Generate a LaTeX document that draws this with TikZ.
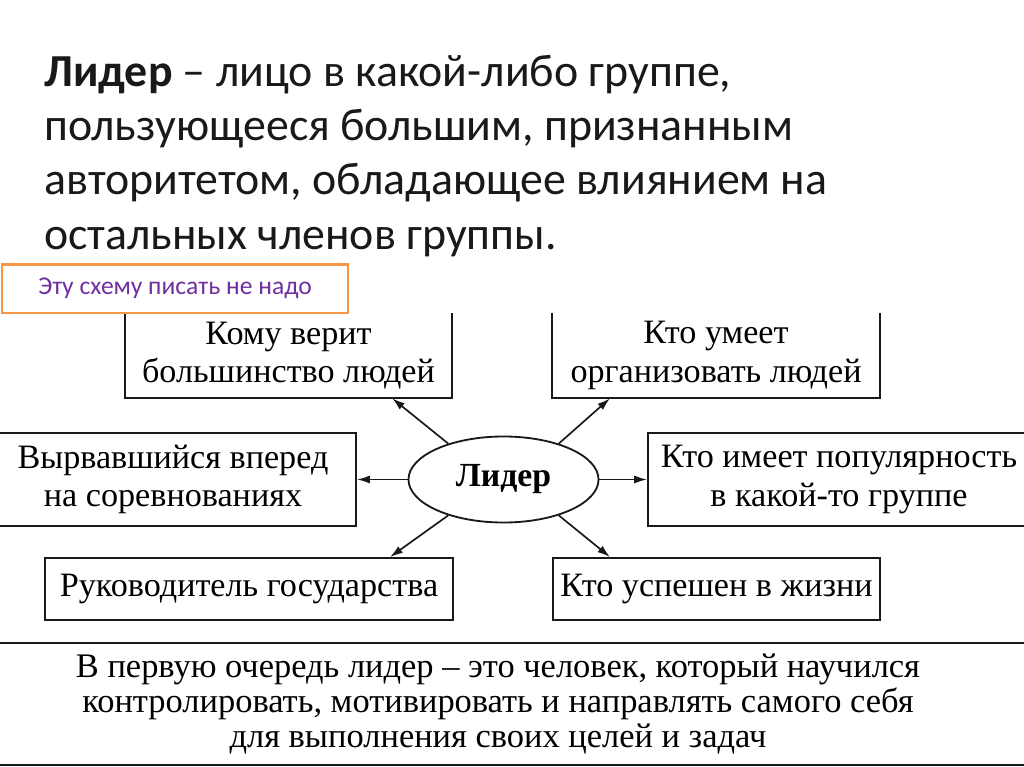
\documentclass[tikz,border=0pt]{standalone}
\usepackage{fontspec}
\setmainfont{Liberation Serif}
\newfontfamily\slidefont{Carlito}
\usepackage{tikz}
\usetikzlibrary{shapes.geometric, arrows.meta, positioning, calc}
\definecolor{mydark}{RGB}{25,25,25}
\definecolor{myorange}{RGB}{247,150,70}
\definecolor{mypurple}{RGB}{112,48,160}
\tikzset{
  titleline/.style={anchor=base west, inner sep=0pt, font=\slidefont\fontsize{32.6}{38}\selectfont, color=mydark},
  openbox/.style={rectangle, draw=none, align=center, inner sep=0pt,
    font=\fontsize{24.3}{27.5}\selectfont},
  plainbox/.style={rectangle, draw=mydark, align=center, inner sep=0pt,
    font=\fontsize{24.3}{27.5}\selectfont, line width=1.3pt},
  leader/.style={ellipse, draw=mydark, inner sep=0pt, minimum width=4.75cm,
    minimum height=2.15cm, font=\bfseries\fontsize{24}{27}\selectfont, line width=1.3pt},
  notebox/.style={rectangle, draw=myorange, fill=white, line width=2pt,
    minimum width=8.65cm, minimum height=1.22cm, font=\slidefont\fontsize{18.2}{21}\selectfont,
    text=mypurple},
  arrow/.style={-{Latex[length=0.32cm, width=0.2cm]}, line width=1.2pt, color=mydark},
  line/.style={line width=1.3pt, color=mydark}
}
\begin{document}
\begin{tikzpicture}[x=0.025cm, y=-0.025cm]
  \useasboundingbox (0,0) rectangle (1024,767);
  \clip (0,0) rectangle (1024,767);

  % Definition text
  \node[titleline] (t1) at (44,87) {\textbf{Лидер} – лицо в какой-либо группе,};
  \node[titleline] (t2) at (44,141) {пользующееся большим, признанным};
  \node[titleline] (t3) at (44,195) {авторитетом, обладающее влиянием на};
  \node[titleline] (t4) at (44,249) {остальных членов группы.};

  % Boxes around the leader
  \node[openbox, minimum width=8.175cm, minimum height=2.125cm] (kom) at (288.5,355.5) {Кому верит\\большинство людей};
  \node[openbox, minimum width=8.175cm, minimum height=2.125cm] (org) at (716,355.5) {Кто умеет\\организовать людей};
  \node[plainbox, minimum width=9.15cm, minimum height=2.325cm] (vyr) at (173,479.5) {Вырвавшийся вперед\\на соревнованиях};
  \node[plainbox, minimum width=9.55cm, minimum height=2.325cm] (pop) at (839,479.5) {Кто имеет популярность\\в какой-то группе};
  \node[plainbox, minimum width=10.2cm, minimum height=1.55cm] (ruk) at (249,589) {Руководитель государства};
  \node[plainbox, minimum width=8.175cm, minimum height=1.55cm] (usp) at (716.5,589) {Кто успешен в жизни};
  \draw[line] (kom.north west) |- (kom.south east) -- (kom.north east);
  \draw[line] (org.north west) |- (org.south east) -- (org.north east);

  % Centre
  \node[leader] (lider) at (503.5,479.5) {Лидер};

  % Arrows
  \draw[arrow] (lider.147) -- ([xshift=2.59cm]kom.south);
  \draw[arrow] (lider.33) -- ([xshift=-2.65cm]org.south);
  \draw[arrow] (lider.west) -- (lider.west -| vyr.east);
  \draw[arrow] (lider.east) -- (lider.east -| pop.west);
  \draw[arrow] (lider.213) -- ([xshift=3.525cm]ruk.north);
  \draw[arrow] (lider.327) -- ([xshift=-2.66cm]usp.north);

  % Conclusion
  \node[rectangle, draw=none, align=center, minimum width=27cm, minimum height=3.05cm,
    font=\fontsize{24.5}{25}\selectfont] (sum) at (498,704)
    {В первую очередь лидер – это человек, который научился\\контролировать, мотивировать и направлять самого себя\\для выполнения своих целей и задач};
  \draw[line] (sum.north west) -- (sum.north east);
  \draw[line] (sum.south west) -- (sum.south east);

  % Note
  \node[notebox] (note) at (175,288.5) {Эту схему писать не надо};
\end{tikzpicture}
\end{document}
